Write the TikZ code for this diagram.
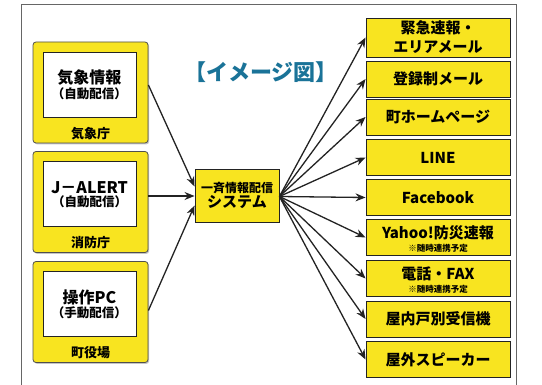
\documentclass[tikz,border=0pt]{standalone}
\usepackage{fontspec}
\newfontfamily\jp{Noto Sans CJK JP}
\usetikzlibrary{arrows.meta,shadows}
\definecolor{ylw}{RGB}{248,228,32}
\definecolor{ttl}{RGB}{26,115,152}
\definecolor{edge}{RGB}{35,35,35}
\tikzset{
  orgbox/.style={draw=edge!80,line width=0.8pt,fill=ylw,rounded corners=3pt,minimum width=115pt,minimum height=101pt,inner sep=0pt,
    drop shadow={shadow xshift=1.2pt,shadow yshift=-1.4pt,opacity=0.45}},
  srcbox/.style={draw=edge,line width=1pt,fill=white,minimum width=93pt,minimum height=65pt,inner sep=0pt,align=center,font=\jp\bfseries},
  orglabel/.style={font=\jp\bfseries\fontsize{13}{15}\selectfont,inner sep=0pt},
  sysbox/.style={draw=edge,line width=0.9pt,fill=ylw,minimum width=84pt,minimum height=53pt,inner sep=0pt,align=center,font=\jp\bfseries,
    drop shadow={shadow xshift=0.8pt,shadow yshift=-0.8pt,opacity=0.35}},
  outbox/.style={draw=edge,line width=0.9pt,fill=ylw,minimum width=144pt,minimum height=36pt,inner sep=0pt,align=center,font=\jp\bfseries\fontsize{15}{19}\selectfont,
    drop shadow={shadow xshift=0.8pt,shadow yshift=-0.8pt,opacity=0.35}},
  arr/.style={draw=edge,line width=1.3pt,-{Stealth[length=10pt,width=8pt]}},
  small/.style={font=\jp\bfseries\fontsize{8.5}{9}\selectfont}
}
\begin{document}
\begin{tikzpicture}[x=1pt,y=-1pt]
\useasboundingbox (0,0) rectangle (542,385);
\fill[white] (0,0) rectangle (542,385);
% frame
\draw[gray!80!black,line width=0.9pt] (21,390) -- (21,4) -- (516,4) -- (516,390);
% title
\node[text=ttl,font=\jp\bfseries\fontsize{22}{26}\selectfont,inner sep=0pt] (title) at (261,72) {【イメージ図】};
% left sources
\node[orgbox] (o1) at (90.5,92.5) {};
\node[srcbox] (s1) at (89.5,85) {{\fontsize{16}{18}\selectfont 気象情報}\\[1pt]{\fontsize{12.5}{14}\selectfont （自動配信）}};
\node[orglabel] (l1) at (90.5,134) {気象庁};
\node[orgbox] (o2) at (90.5,202) {};
\node[srcbox] (s2) at (89.5,194.5) {{\fontsize{16}{18}\selectfont J－ALERT}\\[1pt]{\fontsize{12.5}{14}\selectfont （自動配信）}};
\node[orglabel] (l2) at (90.5,243) {消防庁};
\node[orgbox] (o3) at (90.5,312) {};
\node[srcbox] (s3) at (89.5,304.5) {{\fontsize{16}{18}\selectfont 操作PC}\\[1pt]{\fontsize{12.5}{14}\selectfont （手動配信）}};
\node[orglabel] (l3) at (90.5,353) {町役場};
% system
\node[sysbox] (sys) at (237,195.5) {{\fontsize{12}{14}\selectfont 一斉情報配信}\\[1pt]{\fontsize{15}{17}\selectfont システム}};
% outputs
\node[outbox,minimum height=39pt] (r1) at (438,37.5) {緊急速報・\\エリアメール};
\node[outbox] (r2) at (438,79) {登録制メール};
\node[outbox] (r3) at (438,117) {町ホームページ};
\node[outbox] (r4) at (438,157.5) {LINE};
\node[outbox] (r5) at (438,197.5) {Facebook};
\node[outbox] (r6) at (438,237.5) {};
\node[inner sep=0pt,font=\jp\bfseries\fontsize{15}{17}\selectfont] (r6a) at (438,233) {Yahoo!防災速報};
\node[small,inner sep=0pt] (r6b) at (438,248.5) {※随時連携予定};
\node[outbox] (r7) at (438,278.5) {};
\node[inner sep=0pt,font=\jp\bfseries\fontsize{15}{17}\selectfont] (r7a) at (438,273.5) {電話・FAX};
\node[small,inner sep=0pt] (r7b) at (438,289) {※随時連携予定};
\node[outbox] (r8) at (438,319) {屋内戸別受信機};
\node[outbox] (r9) at (438,359.5) {屋外スピーカー};
% arrows in
\draw[arr] (s1.east -| o1.east) -- ([yshift=9pt]sys.west);
\draw[arr] ([yshift=-1.5pt]s2.east -| o2.east) -- ([yshift=-0.5pt]sys.west);
\draw[arr] ([yshift=-6pt]s3.east -| o3.east) -- ([yshift=-10pt]sys.west);
% arrows out
\foreach \r in {r1,r2,r3,r4,r5,r6,r7,r8,r9}{
  \draw[arr] ([yshift=-1pt]sys.east) -- (\r.west);
}
\end{tikzpicture}
\end{document}
